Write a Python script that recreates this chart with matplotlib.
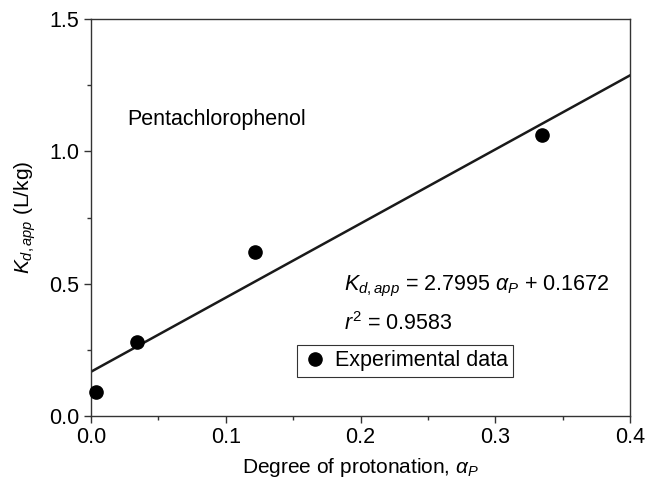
import matplotlib
matplotlib.use("Agg")
import matplotlib.pyplot as plt
from matplotlib.ticker import MultipleLocator

plt.rcParams['font.family'] = ['Liberation Sans', 'DejaVu Sans']
plt.rcParams['mathtext.fontset'] = 'custom'
plt.rcParams['mathtext.rm'] = 'Liberation Sans'
plt.rcParams['mathtext.it'] = 'Liberation Sans:italic'

# experimental data
alpha_p = [0.004, 0.034, 0.122, 0.335]
kd_app = [0.09, 0.28, 0.62, 1.06]

# linear fit
slope = 2.7995
intercept = 0.1672
fit_x = [0.0, 0.4]
fit_y = [slope * x + intercept for x in fit_x]

fs = 15.5

fig = plt.figure(figsize=(6.45, 4.82), dpi=100)
ax = fig.add_axes([91/645, 1 - 416/482, 539/645, 397/482])

ax.plot(fit_x, fit_y, color='#1a1a1a', lw=1.8)
ax.plot(alpha_p, kd_app, 'o', color='black', ms=9.5, label='Experimental data', clip_on=False, zorder=5)

ax.set_xlim(0, 0.4)
ax.set_ylim(0, 1.5)
ax.xaxis.set_major_locator(MultipleLocator(0.1))
ax.xaxis.set_minor_locator(MultipleLocator(0.05))
ax.yaxis.set_major_locator(MultipleLocator(0.5))
ax.yaxis.set_minor_locator(MultipleLocator(0.25))
ax.tick_params(which='major', direction='out', length=5, width=1, labelsize=fs, color='#333333')
ax.tick_params(which='minor', direction='out', length=2.8, width=1, color='#333333')
ax.tick_params(axis='x', pad=3)
for s in ax.spines.values():
    s.set_color('#333333')
    s.set_linewidth(1)

ax.set_xlabel(r'Degree of protonation, $\alpha_P$', fontsize=15, labelpad=6)
ax.set_ylabel(r'$K_{d,app}$ (L/kg)', fontsize=15, labelpad=8)

ax.text(0.027, 1.12, 'Pentachlorophenol', fontsize=fs, va='center')
ax.text(0.188, 0.49, r'$K_{d,app}$ = 2.7995 $\alpha_P$ + 0.1672', fontsize=fs, va='center')
ax.text(0.188, 0.35, r'$r^2$ = 0.9583', fontsize=fs, va='center')

leg = ax.legend(loc='upper left', bbox_to_anchor=((297 - 91) / 539, (416 - 345) / 397),
                fontsize=fs, frameon=True, fancybox=False, edgecolor='black',
                handletextpad=0.3, borderpad=0.25, handlelength=1.2, borderaxespad=0)
leg.get_frame().set_linewidth(0.8)

fig.savefig('out.png', dpi=100)
